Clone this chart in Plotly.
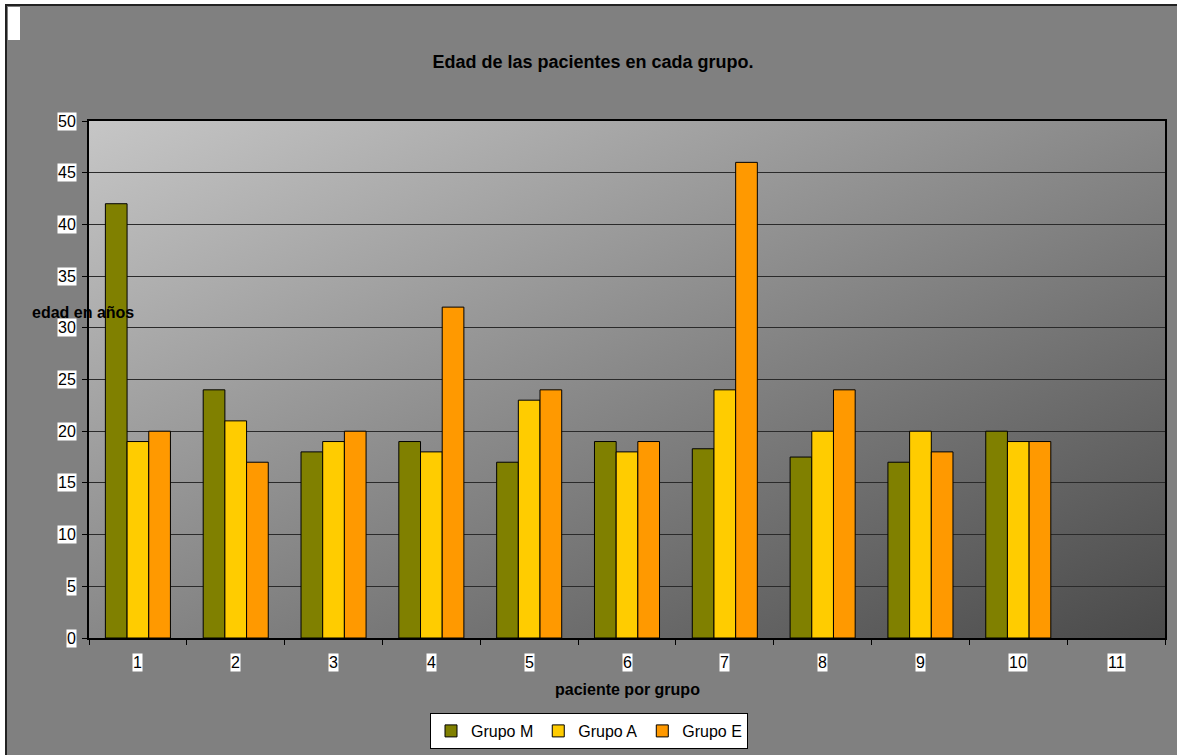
import base64
import plotly.graph_objects as go

categories = ["1", "2", "3", "4", "5", "6", "7", "8", "9", "10", "11"]
grupo_m = [42, 24, 18, 19, 17, 19, 18.3, 17.5, 17, 20, None]
grupo_a = [19, 21, 19, 18, 23, 18, 24, 20, 20, 19, None]
grupo_e = [20, 17, 20, 32, 24, 19, 46, 24, 18, 19, None]
y_ticks = [0, 5, 10, 15, 20, 25, 30, 35, 40, 45, 50]

FONT = "Liberation Sans, Arial, sans-serif"
W, H = 1177, 755
L, R, T, B = 89, 12, 121, 117
PW, PH = W - L - R, H - T - B


def px_x(x):
    return (x - L) / PW


def px_y(y):
    return (H - B - y) / PH


fig = go.Figure()
series = [("Grupo M", grupo_m, "#808000"),
          ("Grupo A", grupo_a, "#FFCC00"),
          ("Grupo E", grupo_e, "#FF9900")]
for name, vals, col in series:
    fig.add_trace(go.Bar(x=categories, y=vals, name=name,
                         marker=dict(color=col, line=dict(color="black", width=1))))

svg = ('<svg xmlns="http://www.w3.org/2000/svg" width="200" height="100" viewBox="0 0 200 100" '
       'preserveAspectRatio="none"><defs><linearGradient id="g" x1="0" y1="0" x2="1" y2="1">'
       '<stop offset="0" stop-color="#c6c6c6"/><stop offset="1" stop-color="#4a4a4a"/>'
       '</linearGradient></defs><rect width="200" height="100" fill="url(#g)"/></svg>')
uri = "data:image/svg+xml;base64," + base64.b64encode(svg.encode()).decode()

fig.add_layout_image(dict(source=uri, xref="x", yref="y", x=-0.5, y=50,
                          sizex=len(categories), sizey=50, xanchor="left", yanchor="top",
                          sizing="stretch", layer="below"))

shapes = [
    dict(type="rect", xref="paper", yref="paper", layer="below",
         x0=px_x(6), x1=px_x(1195), y0=px_y(775), y1=px_y(5),
         fillcolor="#808080", line=dict(color="#222222", width=2)),
    dict(type="rect", xref="paper", yref="paper", layer="below",
         x0=px_x(8), x1=px_x(20), y0=px_y(40), y1=px_y(7),
         fillcolor="white", line=dict(width=0)),
]

annotations = []
for v in y_ticks:
    annotations.append(dict(xref="paper", yref="y", x=px_x(77), y=v, text=str(v),
                            showarrow=False, xanchor="right", yanchor="middle",
                            bgcolor="white", borderpad=0,
                            font=dict(family=FONT, size=16, color="black")))
for i, c in enumerate(categories):
    annotations.append(dict(xref="x", yref="paper", x=i, y=px_y(662), text=c,
                            showarrow=False, xanchor="center", yanchor="middle",
                            bgcolor="white", borderpad=0,
                            font=dict(family=FONT, size=16, color="black")))
annotations.append(dict(xref="paper", yref="paper", x=px_x(30), y=px_y(312),
                        text="<b>edad en años</b>", showarrow=False,
                        xanchor="left", yanchor="middle",
                        font=dict(family=FONT, size=16, color="black")))
annotations.append(dict(xref="paper", yref="paper", x=0.5, y=px_y(689),
                        text="<b>paciente por grupo</b>", showarrow=False,
                        xanchor="center", yanchor="middle",
                        font=dict(family=FONT, size=16, color="black")))

fig.update_layout(
    width=W, height=H,
    margin=dict(l=L, r=R, t=T, b=B, autoexpand=False),
    paper_bgcolor="white",
    plot_bgcolor="rgba(0,0,0,0)",
    barmode="group", bargap=0.335, bargroupgap=0,
    font=dict(family=FONT, size=16, color="black"),
    title=dict(text="<b>Edad de las pacientes en cada grupo.</b>",
               xref="container", x=593 / W, yref="container", y=1 - 62 / H,
               xanchor="center", yanchor="middle",
               font=dict(family=FONT, size=18, color="black")),
    xaxis=dict(type="category", categoryorder="array", categoryarray=categories,
               range=[-0.5, len(categories) - 0.5], showticklabels=False,
               ticks="outside", tickson="boundaries", ticklen=5, tickcolor="black",
               showline=True, linecolor="black", linewidth=2, mirror=True,
               showgrid=False, zeroline=False),
    yaxis=dict(range=[0, 50], tickvals=y_ticks, showticklabels=False,
               ticks="outside", ticklen=5, tickcolor="black",
               showline=True, linecolor="black", linewidth=2, mirror=True,
               showgrid=True, gridcolor="#2a2a2a", gridwidth=1, zeroline=False),
    legend=dict(orientation="h", xref="paper", yref="paper",
                x=px_x(589), y=px_y(731), xanchor="center", yanchor="middle",
                bgcolor="white", bordercolor="black", borderwidth=1,
                font=dict(family=FONT, size=16, color="black"),
                itemwidth=30, traceorder="normal"),
    shapes=shapes,
    annotations=annotations,
)

fig.write_html("out.html")
